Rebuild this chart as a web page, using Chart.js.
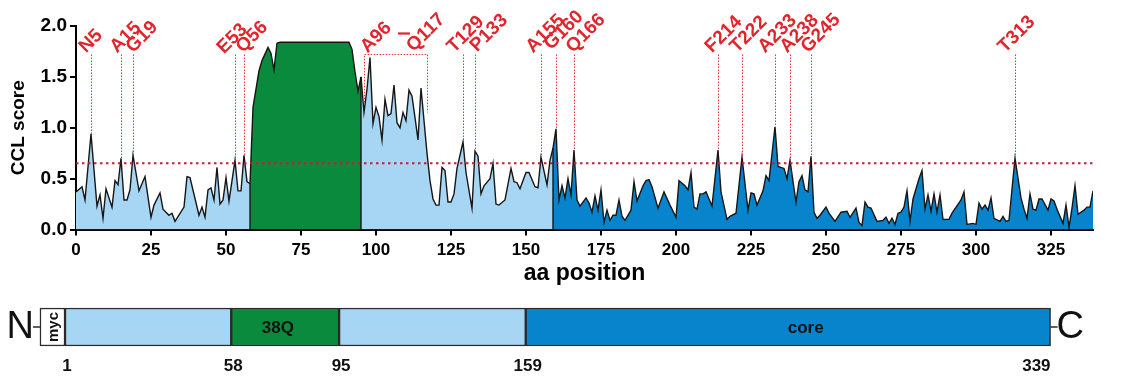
<!DOCTYPE html>
<html>
<head>
<meta charset="utf-8">
<script src="https://cdn.jsdelivr.net/npm/chart.js@4.4.1/dist/chart.umd.min.js"></script>
<style>
  html, body { margin: 0; padding: 0; background: #fff; }
  #wrap { position: relative; width: 1122px; height: 376px; overflow: hidden; }
  #plot { position: absolute; left: 0; top: 0; }
  #domains { position: absolute; left: 0; top: 280px; }
</style>
</head>
<body>
<div id="wrap">
  <canvas id="plot" width="1122" height="290"></canvas>
  <canvas id="domains" width="1122" height="94"></canvas>
</div>
<script>
// CCL score per residue
const positions = [
  0, 2, 3, 5, 7, 8, 9, 10, 12, 13, 14, 15, 16, 17, 18, 19, 21, 23, 25, 26, 28, 29, 31, 32, 33,
  36, 37, 38, 41, 42, 43, 44, 45, 46, 47, 48, 49, 50, 51, 53, 54, 55, 56, 57, 58,
  59, 61, 62, 64, 65, 66, 67, 68, 91, 92, 93, 94, 95,
  96, 97, 98, 99, 100, 101, 102, 103, 104, 105, 106, 107, 108, 109, 110, 111, 112, 113, 114,
  115, 116, 117, 118, 119, 120, 121, 122, 123, 124, 125, 126, 127, 129, 130, 132, 133, 134,
  135, 136, 138, 139, 140, 141, 143, 145, 146, 147, 148, 150, 151, 153, 154, 155, 157, 158, 159,
  160, 161, 162, 163, 164, 165, 166, 167, 168, 170, 171, 172, 173, 174, 175, 176, 177, 178, 179,
  180, 181, 182, 183, 185, 186, 187, 189, 190, 191, 192, 194, 196, 198, 200, 201, 203, 204, 205,
  206, 207, 208, 209, 210, 212, 214, 215, 217, 218, 220, 222, 224, 225, 226, 227, 229, 230, 231,
  233, 234, 236, 237, 238, 240, 241, 242, 243, 244, 245, 246, 247, 248, 250, 251, 253, 255, 257,
  258, 260, 261, 262, 263, 264, 265, 267, 269, 270, 271, 272, 273, 274, 275, 276, 277, 278, 279,
  281, 282, 283, 284, 285, 286, 287, 288, 289, 291, 292, 295, 296, 297, 299, 300, 301, 302, 303,
  304, 305, 306, 308, 309, 310, 311, 313, 315, 316, 317, 318, 319, 320, 321, 322, 324, 325, 326,
  327, 329, 330, 331, 332, 333, 334, 336, 337, 338, 339
];
const scores = [
  0.37, 0.42, 0.29, 0.94, 0.23, 0.34, 0.11, 0.40, 0.22, 0.48, 0.44, 0.70, 0.29, 0.29, 0.39, 0.73, 0.38, 0.52, 0.12, 0.24, 0.36, 0.20, 0.14, 0.16, 0.08,
  0.22, 0.52, 0.51, 0.14, 0.22, 0.12, 0.39, 0.41, 0.29, 0.61, 0.25, 0.29, 0.51, 0.28, 0.68, 0.38, 0.38, 0.73, 0.47, 0.45,
  1.20, 1.56, 1.66, 1.79, 1.73, 1.57, 1.83, 1.84, 1.84, 1.77, 1.55, 1.36, 1.50,
  1.15, 1.38, 1.69, 1.04, 1.20, 1.11, 0.88, 1.28, 1.12, 1.14, 1.42, 1.05, 1.00, 1.15, 1.07, 1.37, 1.31, 1.10, 0.88,
  1.39, 1.07, 0.75, 0.48, 0.30, 0.24, 0.24, 0.61, 0.58, 0.27, 0.27, 0.35, 0.60, 0.86, 0.56, 0.21, 0.77, 0.72,
  0.35, 0.43, 0.50, 0.65, 0.25, 0.24, 0.29, 0.60, 0.47, 0.46, 0.40, 0.56, 0.56, 0.42, 0.41, 0.71, 0.44, 0.68, 0.80,
  0.99, 0.29, 0.43, 0.31, 0.50, 0.34, 0.78, 0.29, 0.23, 0.31, 0.26, 0.17, 0.33, 0.19, 0.39, 0.07, 0.19, 0.09, 0.14,
  0.14, 0.29, 0.13, 0.09, 0.19, 0.47, 0.28, 0.43, 0.48, 0.49, 0.42, 0.21, 0.37, 0.24, 0.12, 0.48, 0.43, 0.39, 0.56,
  0.22, 0.20, 0.35, 0.35, 0.37, 0.23, 0.78, 0.37, 0.10, 0.13, 0.16, 0.71, 0.19, 0.36, 0.35, 0.24, 0.38, 0.53, 0.48,
  1.01, 0.62, 0.60, 0.50, 0.68, 0.27, 0.47, 0.53, 0.39, 0.37, 0.72, 0.17, 0.11, 0.14, 0.22, 0.16, 0.08, 0.17, 0.18,
  0.12, 0.21, 0.07, 0.04, 0.27, 0.22, 0.21, 0.08, 0.09, 0.12, 0.06, 0.11, 0.05, 0.16, 0.17, 0.22, 0.38, 0.08, 0.30,
  0.50, 0.58, 0.20, 0.34, 0.18, 0.35, 0.17, 0.34, 0.10, 0.10, 0.16, 0.29, 0.37, 0.05, 0.06, 0.05, 0.26, 0.20, 0.24,
  0.19, 0.31, 0.11, 0.08, 0.13, 0.08, 0.09, 0.70, 0.31, 0.20, 0.11, 0.35, 0.20, 0.19, 0.30, 0.30, 0.19, 0.30, 0.28,
  0.20, 0.06, 0.24, 0.02, 0.21, 0.43, 0.15, 0.19, 0.22, 0.22, 0.38
];

const regionBounds = [0, 58, 95, 159, 339];
const lightBlue = '#a6d6f3';
const green = '#0a8a3c';
const darkBlue = '#0784cb';
const regionColors = [lightBlue, green, lightBlue, darkBlue];

const threshold = 0.65;
const xTicks = [0, 25, 50, 75, 100, 125, 150, 175, 200, 225, 250, 275, 300, 325];
const yTicks = [0, 0.5, 1, 1.5, 2];

const siteNames = ['N5', 'A15', 'G19', 'E53', 'Q56', 'T129', 'P133', 'A155', 'G160', 'Q166',
  'F214', 'T222', 'A233', 'A238', 'G245', 'T313'];
const sitePositions = [5, 15, 19, 53, 56, 129, 133, 155, 160, 166, 214, 222, 233, 238, 245, 313];
const rangeNames = ['A96', 'Q117'];
const rangePositions = [96, 117];
const rangeBottoms = [1.25, 1.15];

// domain map under the plot
const domainNames = ['myc', '', '38Q', '', 'core'];
const domainStarts = [-7.6, 1, 58, 95, 159];
const domainEnds = [1, 58, 95, 159, 339];
const domainLabelAt = [-3.3, 0, 74, 0, 255];
const domainColors = ['#ffffff', lightBlue, green, lightBlue, darkBlue];
const domainTicks = [1, 58, 95, 159, 339];

const FONT = 'Liberation Sans, Arial, sans-serif';
const RED = '#e2252d';
const LABEL_TOP = 1.72;
// hand placement of the tilted labels relative to their drop line (px)
const labelNudgeX = [-5, -4, 0, -11, -1, -9, 2, -8, -5, -1, -6, -5, -10, -3, -3, -10];
const labelNudgeY = [-1, -1, -1, 0, -1, -1, -2, -1, -4, -1, -1, -1, -1, -1, -1, -1];

const points = positions.map((x, i) => ({ x: x, y: scores[i] }));
const scoreAt = p => scores[positions.indexOf(p)];

const regionSets = regionColors.map((c, i) => ({
  data: points.filter(p => p.x >= regionBounds[i] && p.x <= regionBounds[i + 1]),
  backgroundColor: c,
  borderColor: '#161616',
  borderWidth: 1.4,
  fill: 'origin',
  pointRadius: 0,
  tension: 0,
  order: 1
}));

const thresholdSet = {
  data: [{ x: regionBounds[0], y: threshold }, { x: regionBounds[regionBounds.length - 1], y: threshold }],
  borderColor: '#c81e2c',
  borderWidth: 2,
  borderDash: [2.5, 3.5],
  fill: false,
  pointRadius: 0,
  order: 0
};

const annotate = {
  id: 'annotate',
  afterDatasetsDraw(chart) {
    const { ctx, scales: { x, y } } = chart;
    const top = y.getPixelForValue(LABEL_TOP);
    ctx.save();

    // black edges where the colour changes
    ctx.strokeStyle = '#161616';
    ctx.lineWidth = 1.4;
    regionBounds.slice(1, -1).forEach(b => {
      const px = x.getPixelForValue(b);
      ctx.beginPath();
      ctx.moveTo(px, y.getPixelForValue(0));
      ctx.lineTo(px, y.getPixelForValue(scoreAt(b)));
      ctx.stroke();
    });

    // dotted drop lines to the peaks
    ctx.strokeStyle = '#e0343c';
    ctx.lineWidth = 1;
    ctx.setLineDash([1.5, 1.5]);
    sitePositions.forEach(p => {
      const px = Math.round(x.getPixelForValue(p)) + 0.5;
      ctx.beginPath();
      ctx.moveTo(px, top);
      ctx.lineTo(px, y.getPixelForValue(scoreAt(p)));
      ctx.stroke();
    });

    // bracket for the A96-Q117 stretch
    const bx0 = Math.round(x.getPixelForValue(rangePositions[0])) + 0.5;
    const bx1 = Math.round(x.getPixelForValue(rangePositions[1])) + 0.5;
    ctx.beginPath();
    ctx.moveTo(bx0, y.getPixelForValue(rangeBottoms[0]));
    ctx.lineTo(bx0, top);
    ctx.lineTo(bx1, top);
    ctx.lineTo(bx1, y.getPixelForValue(rangeBottoms[1]));
    ctx.stroke();
    ctx.setLineDash([]);

    // rotated red labels
    ctx.fillStyle = RED;
    ctx.font = 'bold 19px ' + FONT;
    ctx.textAlign = 'left';
    ctx.textBaseline = 'alphabetic';
    const tilt = (txt, ax, ay) => {
      ctx.save();
      ctx.translate(ax, ay);
      ctx.rotate(-Math.PI / 4);
      ctx.fillText(txt, 0, 0);
      ctx.restore();
    };
    sitePositions.forEach((p, i) =>
      tilt(siteNames[i], x.getPixelForValue(p) + labelNudgeX[i], top + labelNudgeY[i]));
    tilt(rangeNames[0], bx0 + 3, top - 1);
    tilt(rangeNames[1], bx1 - 14, top - 2);
    const ux = (bx0 + bx1) / 2 + 8;
    ctx.strokeStyle = RED;
    ctx.lineWidth = 2.2;
    ctx.beginPath();
    ctx.moveTo(ux - 6, top - 21);
    ctx.lineTo(ux + 6, top - 21);
    ctx.stroke();

    ctx.restore();
  }
};

new Chart(document.getElementById('plot'), {
  type: 'line',
  data: { datasets: [thresholdSet].concat(regionSets) },
  options: {
    responsive: false,
    animation: false,
    devicePixelRatio: 1,
    layout: { padding: { left: 0, right: 29, top: 26, bottom: 0 } },
    plugins: { legend: { display: false }, tooltip: { enabled: false } },
    scales: {
      x: {
        type: 'linear',
        min: 0,
        max: 339,
        afterBuildTicks: s => { s.ticks = xTicks.map(v => ({ value: v })); },
        afterFit: s => { s.height = 60.5; },
        border: { display: true, color: '#000', width: 2 },
        grid: { drawOnChartArea: false, drawTicks: true, tickLength: 6, color: '#000', lineWidth: 2 },
        ticks: { color: '#000', padding: 5, maxRotation: 0, autoSkip: false, font: { family: FONT, size: 17, weight: 'bold' } },
        title: { display: true, text: 'aa position', color: '#000', padding: { top: 0, bottom: 3 }, font: { family: FONT, size: 23, weight: 'bold' } }
      },
      y: {
        min: 0,
        max: 2,
        afterBuildTicks: s => { s.ticks = yTicks.map(v => ({ value: v })); },
        afterFit: s => { s.width = 76; },
        border: { display: true, color: '#000', width: 2 },
        grid: { drawOnChartArea: false, drawTicks: true, tickLength: 6, color: '#000', lineWidth: 2 },
        ticks: { color: '#000', padding: 3, callback: v => v.toFixed(1), font: { family: FONT, size: 19, weight: 'bold' } },
        title: { display: true, text: 'CCL score', color: '#000', padding: 7, font: { family: FONT, size: 19, weight: 'bold' } }
      }
    }
  },
  plugins: [annotate]
});

const domainText = {
  id: 'domainText',
  afterDatasetsDraw(chart) {
    const { ctx, scales: { x } } = chart;
    const meta = chart.getDatasetMeta(1).data[0];
    const cy = meta.y;
    const half = meta.height / 2;
    const x0 = x.getPixelForValue(domainStarts[0]);
    const x1 = x.getPixelForValue(domainEnds[domainEnds.length - 1]);
    ctx.save();
    ctx.strokeStyle = '#2a2a2a';
    ctx.lineWidth = 1.5;
    ctx.beginPath();
    ctx.moveTo(x0 - 7, cy); ctx.lineTo(x0, cy);
    ctx.moveTo(x1, cy); ctx.lineTo(x1 + 7, cy);
    ctx.stroke();

    ctx.fillStyle = '#111';
    ctx.textBaseline = 'middle';
    ctx.font = '38px ' + FONT;
    ctx.textAlign = 'right';
    ctx.fillText('N', x0 - 6, cy + 1);
    ctx.textAlign = 'left';
    ctx.fillText('C', x1 + 6, cy + 1);

    ctx.textAlign = 'center';
    domainNames.forEach((n, i) => {
      if (!n) return;
      const px = x.getPixelForValue(domainLabelAt[i]);
      if (i === 0) {
        ctx.save();
        ctx.translate(px, cy);
        ctx.rotate(-Math.PI / 2);
        ctx.font = 'bold 15px ' + FONT;
        ctx.fillText(n, 0, 1);
        ctx.restore();
      } else {
        ctx.font = 'bold 17px ' + FONT;
        ctx.fillText(n, px, cy + 1);
      }
    });

    ctx.font = 'bold 17px ' + FONT;
    domainTicks.forEach((t, i) => {
      const last = i === domainTicks.length - 1;
      ctx.textAlign = last ? 'right' : 'center';
      ctx.fillText(String(t), x.getPixelForValue(t) + (last ? 0 : 2), cy + half + 20);
    });
    ctx.restore();
  }
};

new Chart(document.getElementById('domains'), {
  type: 'bar',
  data: {
    labels: ['protein'],
    datasets: domainNames.map((n, i) => ({
      label: n || 'linker',
      data: [[domainStarts[i], domainEnds[i]]],
      backgroundColor: domainColors[i],
      borderColor: '#2a2a2a',
      borderWidth: 1.5,
      borderSkipped: false,
      grouped: false,
      barThickness: 38
    }))
  },
  options: {
    indexAxis: 'y',
    responsive: false,
    animation: false,
    devicePixelRatio: 1,
    layout: { padding: 0 },
    plugins: { legend: { display: false }, tooltip: { enabled: false } },
    scales: {
      x: { type: 'linear', display: false, min: -21.3, max: 363.5 },
      y: { display: false }
    }
  },
  plugins: [domainText]
});
</script>
</body>
</html>
